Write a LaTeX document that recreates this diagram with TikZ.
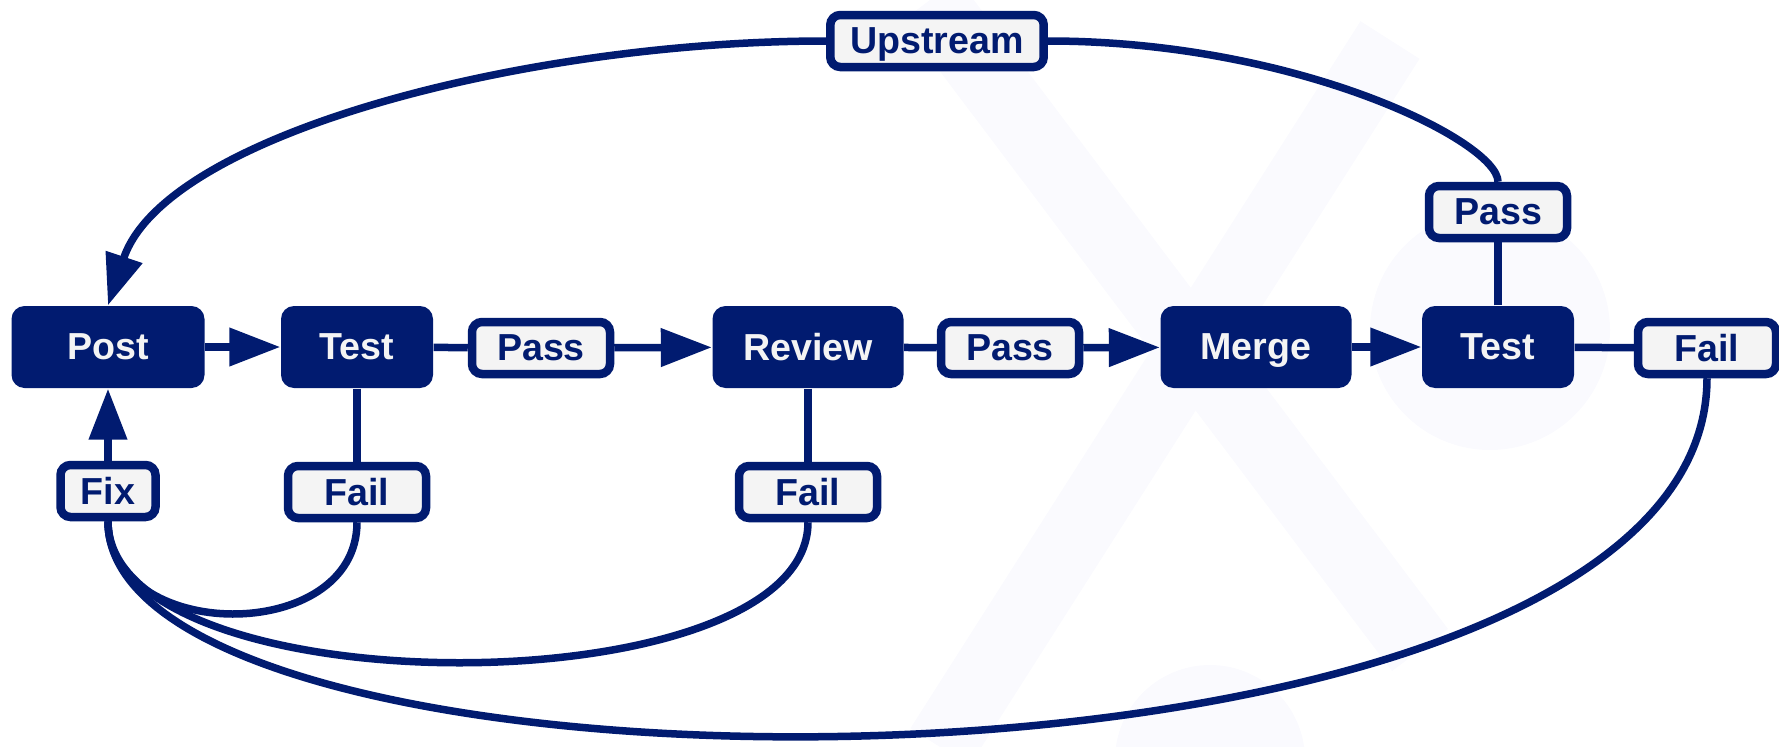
\documentclass[tikz,border=0pt]{standalone}
\usepackage{fontspec}
\setmainfont{Liberation Sans}
\usetikzlibrary{arrows.meta}

\definecolor{navy}{HTML}{011B70}
\definecolor{paper}{HTML}{F4F4F4}
\definecolor{faint}{RGB}{250,250,254}

\tikzset{
  stage/.style={fill=navy, draw=none, text=paper, rounded corners=1.3mm,
    minimum height=8.2mm, text depth=0pt,
    font=\fontsize{10.7}{12}\selectfont\bfseries},
  verdict/.style={fill=paper, draw=navy, line width=0.85mm, text=navy,
    rounded corners=1mm, minimum width=13.8mm, minimum height=5.2mm,
    inner xsep=2mm, text depth=0pt,
    font=\fontsize{10.7}{12}\selectfont\bfseries},
  conn/.style={draw=navy, line width=0.75mm},
  flow/.style={conn, -{Triangle[length=5.1mm, width=3.7mm]}}
}

\begin{document}
\begin{tikzpicture}[x=0.1mm, y=-0.1mm]
  \useasboundingbox (0,0) rectangle (1779,747);

  % faint watermark
  \begin{scope}[faint, line width=7mm]
    \draw (930,0) -- (1420,650);
    \draw (1390,40) -- (940,747);
    \fill (1490,330) circle (120);
    \fill (1210,760) circle (95);
  \end{scope}

  % main line
  \node[stage, minimum width=19.3mm] (post) at (108,347) {Post};
  \node[stage, minimum width=15.2mm] (test1) at (357,347) {Test};
  \node[verdict] (pass1) at (541,348) {Pass};
  \node[stage, minimum width=19.1mm] (review) at (808,347) {Review};
  \node[verdict] (pass2) at (1010,348) {Pass};
  \node[stage, minimum width=19.1mm] (merge) at (1256,347) {Merge};
  \node[stage, minimum width=15.2mm] (test2) at (1498,347) {Test};
  \node[verdict] (fail3) at (1707,348) {Fail};

  % side branches
  \node[verdict] (pass3) at (1498,212) {Pass};
  \node[verdict] (upstream) at (937,41) {Upstream};
  \node[verdict, minimum width=9.5mm] (fix) at (108,491) {Fix};
  \node[verdict] (fail1) at (357,492) {Fail};
  \node[verdict] (fail2) at (808,492) {Fail};

  \draw[flow] (post) -- (test1);
  \draw[conn] (test1) -- (pass1);
  \draw[flow] (pass1) -- (review);
  \draw[conn] (review) -- (pass2);
  \draw[flow] (pass2) -- (merge);
  \draw[flow] (merge) -- (test2);
  \draw[conn] (test2) -- (fail3);

  \draw[conn] (test2) -- (pass3);
  \draw[conn] (test1) -- (fail1);
  \draw[conn] (review) -- (fail2);
  \draw[flow] (fix) -- (post);

  % loops back
  \draw[conn] (pass3.north) .. controls +(0,-40) and +(250,0) .. (upstream.east);
  \draw[flow] (upstream.west) .. controls +(-300,0) and +(57,-171) .. (post.north);
  \draw[conn] (fail1.south) .. controls +(0,123) and +(0,123) .. (fix.south);
  \draw[conn] (fail2.south) .. controls +(0,188) and +(0,188) .. (fix.south);
  \draw[conn] (fail3.south) .. controls +(0,452) and +(0,307) .. (fix.south);
\end{tikzpicture}
\end{document}
